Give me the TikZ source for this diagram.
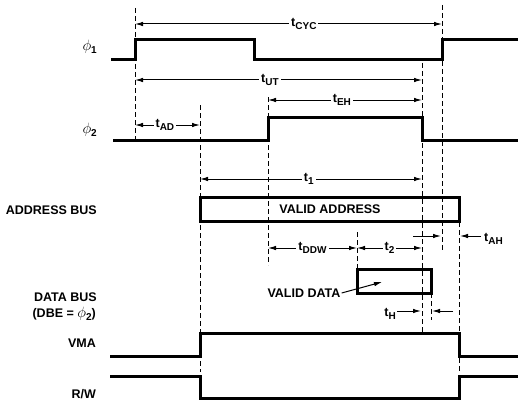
\documentclass[tikz,border=0pt]{standalone}
\usepackage{fontspec}
\setmainfont{Liberation Sans}
\usetikzlibrary{arrows.meta}

\newcommand{\tsub}[1]{t\raisebox{-3.5pt}{\fontsize{10}{12}\selectfont #1}}
\newcommand{\phisub}[1]{\scalebox{1.25}{$\phi$}\raisebox{-3.5pt}{\fontsize{10}{12}\selectfont #1}}

\tikzset{
	sig/.style={line width=3pt, line join=miter},
	guide/.style={line width=1pt, dash pattern=on 5pt off 3pt},
	dimline/.style={line width=1pt, {Latex[length=8pt,width=4.5pt]}-{Latex[length=8pt,width=4.5pt]}},
	oneway/.style={line width=1pt, -{Latex[length=8pt,width=4.5pt]}},
	lbl/.style={font=\bfseries\fontsize{12.5}{15}\selectfont, inner sep=1pt},
	tlbl/.style={lbl, fill=white, inner sep=2pt},
}

\begin{document}
\begin{tikzpicture}[x=1pt, y=-1pt]
			%%%%% START %%%%%
			\useasboundingbox (0, 0) rectangle (518, 401);
			
			% signal names
			\node[lbl, anchor=east] (phione) at (98, 47) {\phisub{1}};
			\node[lbl, anchor=east] (phitwo) at (98, 130) {\phisub{2}};
			\node[lbl, anchor=east] (abus) at (98, 210) {ADDRESS BUS};
			\node[lbl, anchor=east] (dbus) at (98, 297) {DATA BUS};
			\node[lbl, anchor=east] (dbe) at (97, 314) {(DBE = \phisub{2})};
			\node[lbl, anchor=east] (vma) at (97, 343) {VMA};
			\node[lbl, anchor=east] (rw) at (97, 394) {R/W};
			
			% waveforms
			\draw[sig] (111, 60) -- (135, 60) -- (135, 40) -- (254, 40) -- (254, 60) -- (442, 60) -- (442, 40) -- (520, 40);
			\draw[sig] (113, 140) -- (268, 140) -- (268, 117) -- (422, 117) -- (422, 140) -- (520, 140);
			\draw[sig] (200, 197) rectangle (459, 221);
			\draw[sig] (357, 269) rectangle (431, 293);
			\draw[sig] (110, 356) -- (200, 356) -- (200, 333) -- (459, 333) -- (459, 356) -- (520, 356);
			\draw[sig] (110, 376) -- (200, 376) -- (200, 398) -- (459, 398) -- (459, 376) -- (520, 376);
			
			\node[lbl] (vaddr) at (330, 209) {VALID ADDRESS};
			\node[lbl] (vdata) at (304, 293) {VALID DATA};
			\draw[oneway] (vdata.east) -- (382, 282);
			
			% guide lines
			\draw[guide] (135, 8) -- (135, 140);
			\draw[guide] (442, 5) -- (442, 250);
			\draw[guide] (422, 63) -- (422, 333);
			\draw[guide] (268, 97) -- (268, 265);
			\draw[guide] (200, 105) -- (200, 372);
			\draw[guide] (357, 232) -- (357, 269);
			\draw[guide] (431, 293) -- (431, 320);
			\draw[guide] (459, 222) -- (459, 372);
			
			% timings
			\draw[dimline] (135, 24) -- (442, 24) node[tlbl, pos=0.55] (tcyc) {\tsub{CYC}};
			\draw[dimline] (135, 80) -- (422, 80) node[tlbl, pos=0.47] (tut) {\tsub{UT}};
			\draw[dimline] (268, 100) -- (422, 100) node[tlbl, pos=0.48] (teh) {\tsub{EH}};
			\draw[dimline] (135, 125) -- (200, 125) node[tlbl, pos=0.46] (tad) {\tsub{AD}};
			\draw[dimline] (200, 179) -- (422, 179) node[tlbl, pos=0.49] (tone) {\tsub{1}};
			\draw[dimline] (268, 248) -- (357, 248) node[tlbl, pos=0.5] (tddw) {\tsub{DDW}};
			\draw[dimline] (357, 248) -- (422, 248) node[tlbl, pos=0.5] (ttwo) {\tsub{2}};
			
			\draw[oneway] (413, 236) -- (441, 236);
			\draw[oneway] (481, 236) -- (460, 236);
			\node[lbl, anchor=west] (tah) at (483, 239) {\tsub{AH}};
			
			\node[lbl, anchor=east] (th) at (397, 314) {\tsub{H}};
			\draw[oneway] (th.east |- 0, 311) -- (421, 311);
			\draw[oneway] (453, 311) -- (432, 311);
			
			%%%%% END %%%%%
\end{tikzpicture}
\end{document}
